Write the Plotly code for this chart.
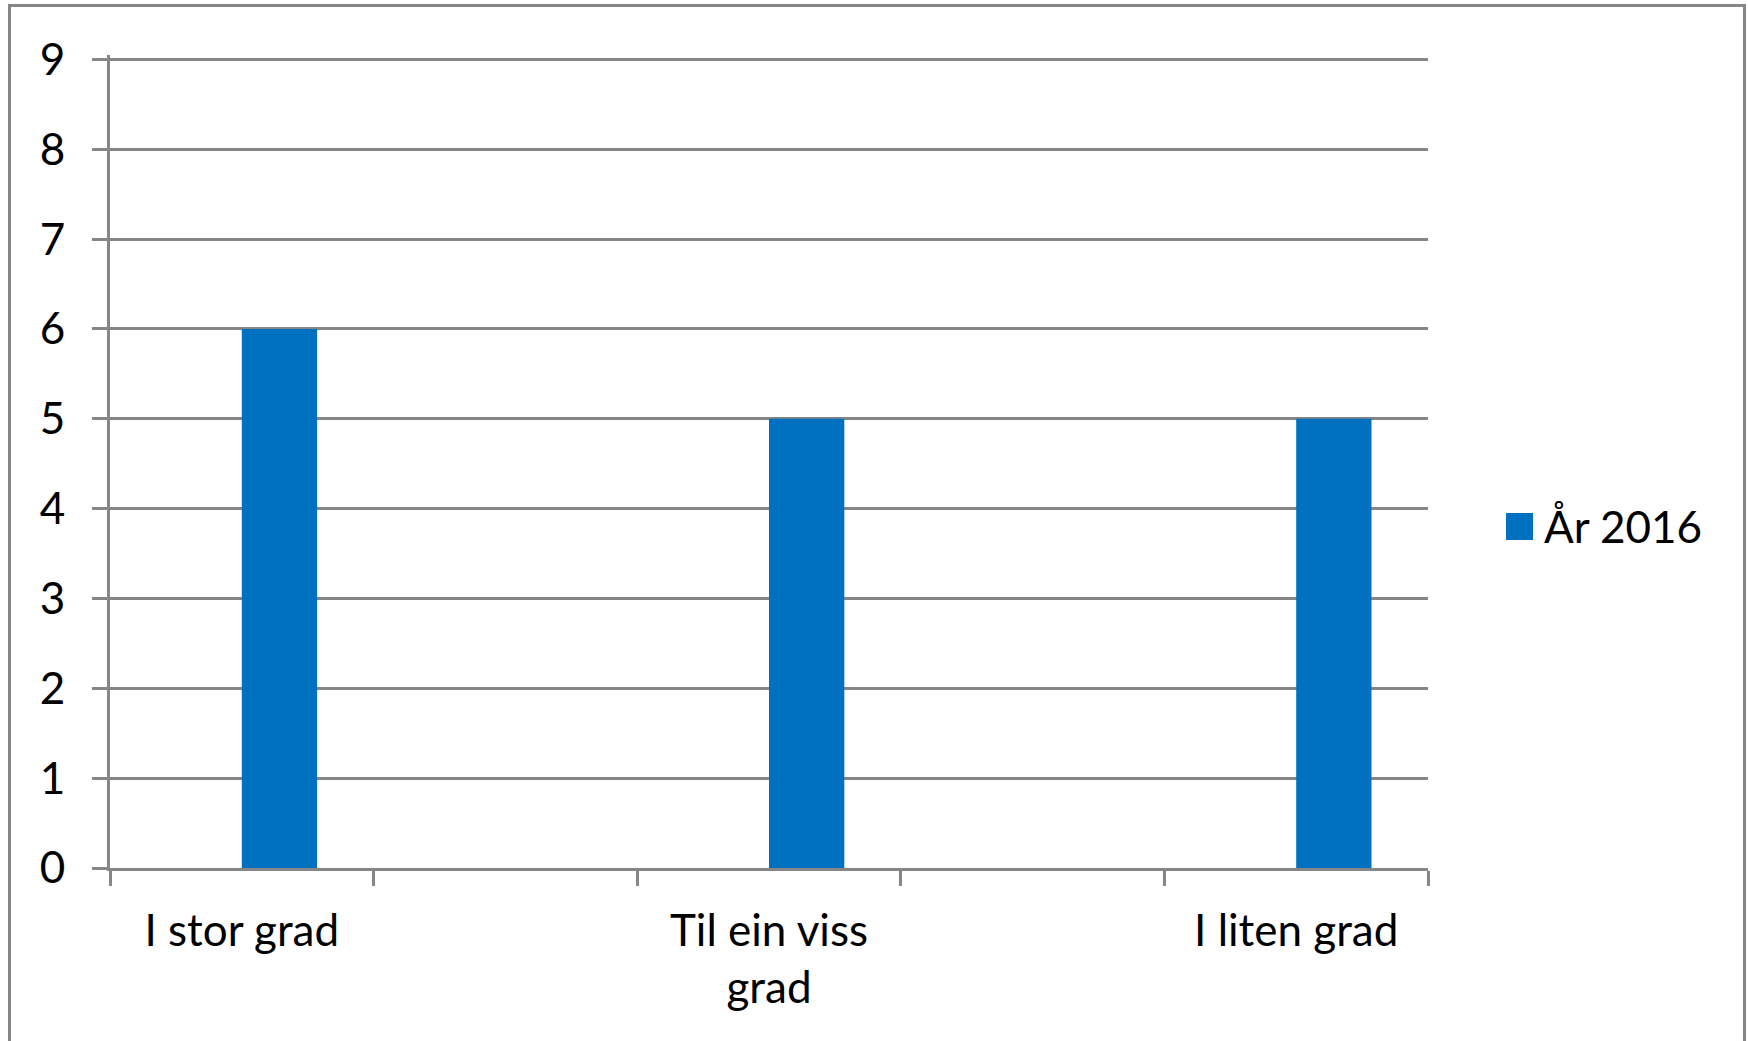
import plotly.graph_objects as go

# Survey answers, one bar per answer category
categories = ["I stor grad", "Til ein viss<br>grad", "I liten grad"]
values_2016 = [6, 5, 5]
series_name = "År 2016"
y_ticks = [0, 1, 2, 3, 4, 5, 6, 7, 8, 9]

BAR_COLOR = "#0070C0"
LINE_COLOR = "#868686"
FONT = "Lato, Carlito, 'Open Sans', sans-serif"
FONT_SIZE = 44

# Each category occupies two slots on the axis; the series is the second of a
# two-bar group with a 150 % gap, so it sits just right of the slot centre.
bar_width = 1 / 3.5
slot_centres = [2 * i + 0.5 for i in range(len(categories))]
bar_x = [c + bar_width / 2 for c in slot_centres]

fig = go.Figure()
fig.add_trace(go.Bar(
    x=bar_x, y=values_2016, width=bar_width, name=series_name,
    marker=dict(color=BAR_COLOR, line=dict(width=0)),
    showlegend=False,
))

# small headroom above 9 so the top gridline is drawn
Y_TOP = 9.05

L, R, T, B = 110, 320, 55, 173
W, H = 1748, 1041
PW, PH = W - L - R, H - T - B


def px(x):
    return (x - L) / PW


def py(y):
    return (H - B - y) / PH


fig.update_layout(
    width=W, height=H,
    margin=dict(l=L, r=R, t=T, b=B, pad=0),
    paper_bgcolor="white", plot_bgcolor="white",
    font=dict(family=FONT, size=FONT_SIZE, color="black"),
    xaxis=dict(
        range=[0, 2 * len(categories) - 1],
        tickmode="array", tickvals=slot_centres, ticktext=categories,
        ticks="", showgrid=False, zeroline=False,
        showline=True, linecolor=LINE_COLOR, linewidth=3,
        ticklabelstandoff=22,
        minor=dict(tickmode="array", tickvals=list(range(2 * len(categories))),
                   ticks="outside", ticklen=15, tickwidth=3,
                   tickcolor=LINE_COLOR, showgrid=False),
    ),
    yaxis=dict(
        range=[0, Y_TOP], tickmode="array", tickvals=y_ticks,
        ticks="outside", ticklen=15, tickwidth=3, tickcolor=LINE_COLOR,
        showgrid=True, gridcolor=LINE_COLOR, gridwidth=3,
        zeroline=False, showline=True, linecolor=LINE_COLOR, linewidth=3,
        ticklabelstandoff=18,
    ),
    shapes=[
        # chart frame
        dict(type="rect", xref="paper", yref="paper",
             x0=px(9.5), x1=px(1744.5), y0=py(1120), y1=py(5.5),
             line=dict(color=LINE_COLOR, width=3), fillcolor="rgba(0,0,0,0)",
             layer="below"),
        # legend key
        dict(type="rect", xref="paper", yref="paper",
             x0=px(1506), x1=px(1533), y0=py(540), y1=py(513),
             line=dict(width=0), fillcolor=BAR_COLOR),
    ],
    annotations=[
        dict(text=series_name, xref="paper", yref="paper",
             x=px(1542), y=py(526), xanchor="left", yanchor="middle",
             showarrow=False, font=dict(size=FONT_SIZE)),
    ],
)

fig.write_html("out.html")
